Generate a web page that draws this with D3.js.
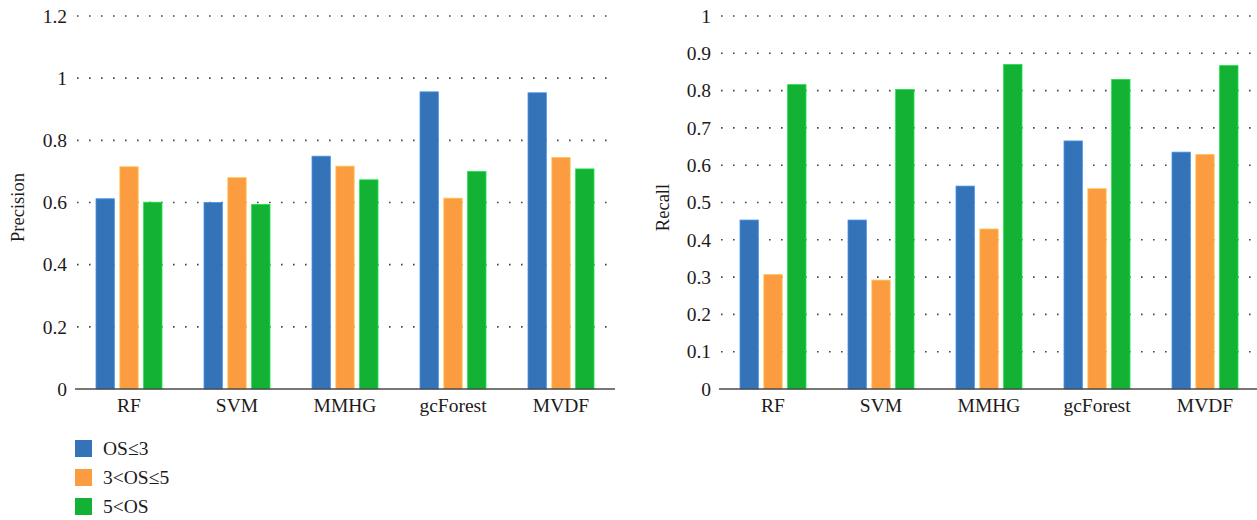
<!DOCTYPE html>
<html>
<head>
<meta charset="utf-8">
<script src="https://cdn.jsdelivr.net/npm/d3@7"></script>
<style>
  body { margin: 0; background: #fff; }
  svg text { font-family: "Liberation Serif", "DejaVu Serif", serif; fill: #1d1a1b; }
</style>
</head>
<body>
<div id="chart"></div>
<script>
// podatki
const methods = ["RF", "SVM", "MMHG", "gcForest", "MVDF"];
const groups = ["OS≤3", "3<OS≤5", "5<OS"];
const colors = ["#3473b7", "#fb9c40", "#13b234"];

const precisionLow = [0.612, 0.600, 0.749, 0.956, 0.953];
const precisionMid = [0.715, 0.680, 0.717, 0.614, 0.745];
const precisionHigh = [0.601, 0.594, 0.673, 0.700, 0.708];

const recallLow = [0.453, 0.453, 0.544, 0.665, 0.635];
const recallMid = [0.307, 0.292, 0.429, 0.537, 0.629];
const recallHigh = [0.816, 0.803, 0.870, 0.830, 0.867];

const precisionTicks = [0, 0.2, 0.4, 0.6, 0.8, 1, 1.2];
const recallTicks = [0, 0.1, 0.2, 0.3, 0.4, 0.5, 0.6, 0.7, 0.8, 0.9, 1];

const serif = '"Liberation Serif", "DejaVu Serif", serif';

const svg = d3.select("#chart")
    .append("svg")
    .attr("width", 1257)
    .attr("height", 520);

function drawPanel(opts) {
    const { x0, x1, yMax, ticks, series, title, titleX } = opts;
    const top = 16, bottom = 389;

    const x = d3.scaleBand().domain(methods).range([x0, x1]);
    const xs = d3.scaleBand().domain(groups).range([21, 87]).paddingInner(0.23);
    const y = d3.scaleLinear().domain([0, yMax]).range([bottom, top]);

    const g = svg.append("g");

    // pikčaste mrežne črte
    g.append("g")
        .selectAll("line")
        .data(ticks.filter(t => t > 0))
        .join("line")
        .attr("x1", x0 + 2)
        .attr("x2", x1)
        .attr("y1", d => y(d))
        .attr("y2", d => y(d))
        .attr("stroke", "#444")
        .attr("stroke-width", 1.6)
        .attr("stroke-dasharray", "1.6,10.4");

    // stolpci
    const rows = methods.map((m, i) => ({ m, vals: series.map(s => s[i]) }));
    g.append("g")
        .selectAll("g")
        .data(rows)
        .join("g")
        .attr("transform", d => `translate(${x(d.m)},0)`)
        .selectAll("rect")
        .data(d => d.vals.map((v, j) => ({ v, k: groups[j], c: colors[j] })))
        .join("rect")
        .attr("x", d => xs(d.k))
        .attr("y", d => y(d.v))
        .attr("width", xs.bandwidth())
        .attr("height", d => bottom - y(d.v))
        .attr("fill", d => d.c)
        .attr("stroke", d => d3.color(d.c).brighter(0.7))
        .attr("stroke-width", 0.8);

    // os x
    g.append("line")
        .attr("x1", x0).attr("x2", x1)
        .attr("y1", bottom).attr("y2", bottom)
        .attr("stroke", "#4a4a4a")
        .attr("stroke-width", 1.5);

    const xAxis = g.append("g")
        .attr("transform", `translate(0,${bottom})`)
        .call(d3.axisBottom(x).tickSize(0).tickPadding(9))
        .attr("font-family", serif)
        .attr("font-size", 19.5);
    xAxis.select(".domain").remove();
    xAxis.selectAll("text").attr("fill", "#1d1a1b");

    // os y
    const yAxis = g.append("g")
        .attr("transform", `translate(${x0 - 6},0)`)
        .call(d3.axisLeft(y).tickValues(ticks).tickFormat(d3.format("~g")).tickSize(0).tickPadding(2))
        .attr("font-family", serif)
        .attr("font-size", 19.5);
    yAxis.select(".domain").remove();
    yAxis.selectAll("text").attr("fill", "#1d1a1b");

    g.append("text")
        .attr("transform", `translate(${titleX},${(top + bottom) / 2 + 5}) rotate(-90)`)
        .attr("text-anchor", "middle")
        .style("font-size", "18.5px")
        .text(title);
}

drawPanel({
    x0: 75, x1: 615, yMax: 1.2, ticks: precisionTicks,
    series: [precisionLow, precisionMid, precisionHigh],
    title: "Precision", titleX: 24
});

drawPanel({
    x0: 719, x1: 1259, yMax: 1, ticks: recallTicks,
    series: [recallLow, recallMid, recallHigh],
    title: "Recall", titleX: 669
});

// legenda
const legend = svg.append("g")
    .selectAll("g")
    .data(groups)
    .join("g")
    .attr("transform", (d, i) => `translate(75,${440 + i * 29})`);

legend.append("rect")
    .attr("width", 17)
    .attr("height", 17)
    .attr("fill", (d, i) => colors[i]);

legend.append("text")
    .attr("x", 28)
    .attr("y", 15)
    .style("font-size", "19.5px")
    .text(d => d);
</script>
</body>
</html>
